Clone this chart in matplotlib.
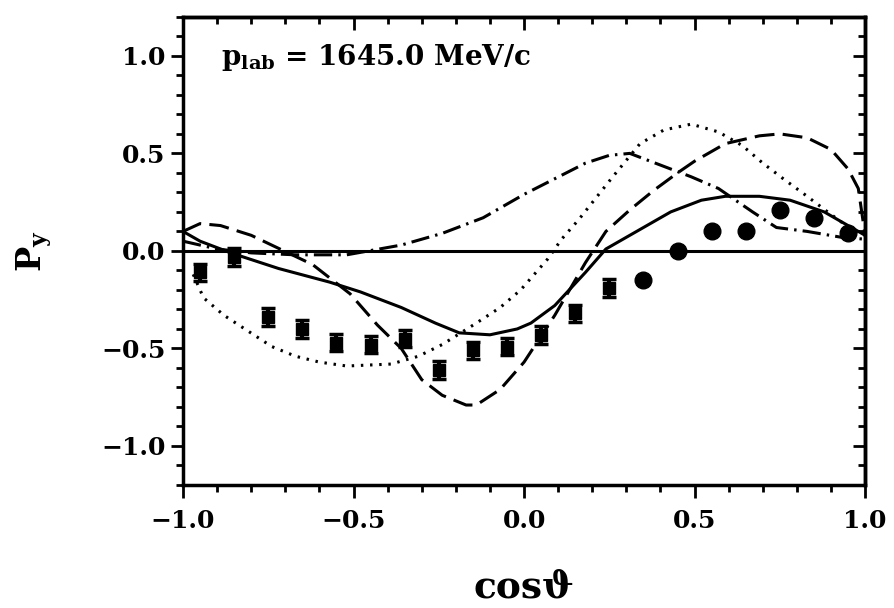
import matplotlib.pyplot as plt
from matplotlib.ticker import MultipleLocator, FuncFormatter

# data
x_sq = [-0.95, -0.85, -0.75, -0.65, -0.55, -0.45, -0.35, -0.25, -0.15, -0.05, 0.05, 0.15, 0.25]
y_sq = [-0.11, -0.03, -0.34, -0.40, -0.47, -0.48, -0.45, -0.61, -0.51, -0.49, -0.43, -0.32, -0.19]
err_sq = [0.045] * len(x_sq)
x_circ = [0.35, 0.45, 0.55, 0.65, 0.75, 0.85, 0.95]
y_circ = [-0.15, 0.0, 0.10, 0.10, 0.21, 0.17, 0.09]

x_solid = [-1.0, -0.95, -0.86, -0.72, -0.57, -0.48, -0.36, -0.26, -0.19, -0.10, -0.02, 0.02, 0.09,
           0.18, 0.24, 0.33, 0.43, 0.52, 0.59, 0.69, 0.78, 0.88, 0.95, 1.0]
y_solid = [0.10, 0.05, -0.01, -0.09, -0.16, -0.21, -0.29, -0.37, -0.42, -0.43, -0.40, -0.37, -0.28,
           -0.11, 0.01, 0.10, 0.20, 0.26, 0.28, 0.28, 0.26, 0.20, 0.13, 0.08]

x_dash = [-1.0, -0.95, -0.89, -0.80, -0.74, -0.62, -0.51, -0.43, -0.36, -0.30, -0.24, -0.17, -0.14,
          -0.07, 0.0, 0.09, 0.18, 0.24, 0.31, 0.38, 0.45, 0.50, 0.59, 0.69, 0.75, 0.83, 0.90, 0.95,
          0.98, 0.99, 1.0]
y_dash = [0.10, 0.14, 0.13, 0.08, 0.03, -0.07, -0.22, -0.38, -0.50, -0.66, -0.74, -0.79, -0.79,
          -0.71, -0.57, -0.33, -0.06, 0.10, 0.21, 0.31, 0.40, 0.46, 0.55, 0.59, 0.60, 0.58, 0.52, 0.42,
          0.32, 0.20, 0.08]

x_dd = [-1.0, -0.9, -0.80, -0.67, -0.52, -0.36, -0.24, -0.12, 0.0, 0.09, 0.18, 0.25, 0.31, 0.40,
        0.49, 0.57, 0.67, 0.74, 0.83, 0.93, 1.0]
y_dd = [0.05, 0.01, -0.01, -0.02, -0.02, 0.03, 0.09, 0.17, 0.29, 0.37, 0.45, 0.49, 0.50, 0.44,
        0.38, 0.32, 0.20, 0.12, 0.10, 0.07, 0.06]

x_dot = [-0.97, -0.94, -0.88, -0.81, -0.74, -0.67, -0.60, -0.52, -0.39, -0.31, -0.24, -0.14, -0.07,
         -0.01, 0.07, 0.11, 0.16, 0.21, 0.26, 0.34, 0.41, 0.49, 0.57, 0.64, 0.70, 0.76, 0.83, 0.89,
         0.96, 1.0]
y_dot = [-0.12, -0.24, -0.33, -0.41, -0.49, -0.54, -0.57, -0.59, -0.58, -0.54, -0.48, -0.37, -0.29,
         -0.20, -0.04, 0.06, 0.16, 0.27, 0.38, 0.55, 0.62, 0.65, 0.61, 0.54, 0.45, 0.37, 0.28, 0.20,
         0.11, 0.08]

plt.rcParams['font.family'] = 'DejaVu Serif'
plt.rcParams['font.weight'] = 'bold'
plt.rcParams['mathtext.fontset'] = 'dejavuserif'

fig = plt.figure(figsize=(8.94, 6.08), dpi=100)
ax = fig.add_axes([0.2047, 0.2023, 0.763, 0.770])

lw = 2.2
ax.axhline(0, color='black', lw=lw)
ax.plot(x_solid, y_solid, color='black', lw=lw)
ax.plot(x_dash, y_dash, color='black', lw=lw, dashes=(6.5, 2.7))
ax.plot(x_dd, y_dd, color='black', lw=lw, dashes=(6, 2, 0.8, 2))
ax.plot(x_dot, y_dot, color='black', lw=lw, dashes=(0.8, 2.2))
ax.errorbar(x_sq, y_sq, yerr=err_sq, fmt='s', color='black', ms=9, capsize=5, capthick=2.5, elinewidth=3)
ax.plot(x_circ, y_circ, 'o', color='black', ms=12)

ax.set_xlim(-1.0, 1.0)
ax.set_ylim(-1.2, 1.2)

fmt = FuncFormatter(lambda v, p: f"{v:.1f}".replace('-', '\u2212'))
for a in [ax.xaxis, ax.yaxis]:
    a.set_major_locator(MultipleLocator(0.5))
    a.set_minor_locator(MultipleLocator(0.1))
    a.set_major_formatter(fmt)
ax.tick_params(which='both', direction='out', width=2, labelsize=18)
ax.tick_params(which='major', length=9)
ax.tick_params(which='minor', length=5)
ax.tick_params(axis='x', pad=8)

# top and right ticks point inward
top = ax.secondary_xaxis('top')
right = ax.secondary_yaxis('right')
for sec, a in [(top, top.xaxis), (right, right.yaxis)]:
    a.set_major_locator(MultipleLocator(0.5))
    a.set_minor_locator(MultipleLocator(0.1))
    sec.tick_params(which='both', direction='in', width=2, labelleft=False, labelright=False,
                    labeltop=False, labelbottom=False)
    sec.tick_params(which='major', length=9)
    sec.tick_params(which='minor', length=5)
    for s in sec.spines.values():
        s.set_linewidth(2.5)
for s in ax.spines.values():
    s.set_linewidth(2.5)

ax.text(-0.89, 0.99, r'$\mathbf{p_{lab}}$ = 1645.0 MeV/c', fontsize=20, fontweight='bold', va='center')
ax.set_xlabel('cosϑ', fontsize=27, fontweight='bold', labelpad=26)
ax.set_ylabel(r'$\mathbf{P_y}$', fontsize=24, labelpad=34)

fig.savefig('out.png', dpi=100)
